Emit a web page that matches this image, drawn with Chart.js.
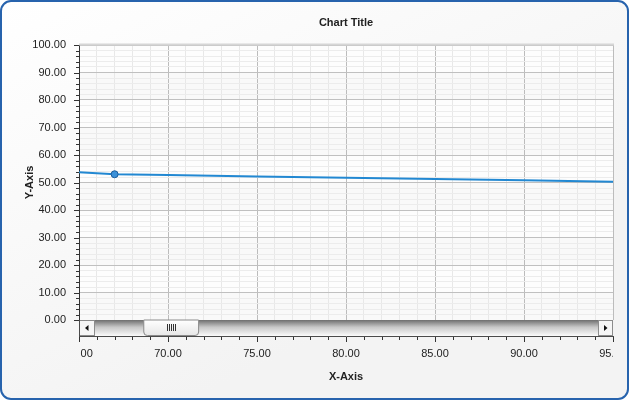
<!DOCTYPE html>
<html>
<head>
<meta charset="utf-8">
<script src="https://cdn.jsdelivr.net/npm/chart.js@4/dist/chart.umd.min.js"></script>
<style>
  html, body { margin: 0; padding: 0; background: #ffffff; }
  #wrap { width: 630px; height: 401px; position: relative; }
</style>
</head>
<body>
<div id="wrap"><canvas id="c" width="630" height="401"></canvas></div>
<script>
// ---- data ----
const xValues = [65, 67, 70, 75, 80, 85, 90, 95];
const yValues = [53.7, 53.0, 52.7, 52.2, 51.7, 51.3, 50.8, 50.3];
const markedIndex = 1;
const xMin = 65, xMax = 95, xStepMinor = 1, xStepMajor = 5;
const yMin = 0, yMax = 100, yStepMinor = 2, yStepMajor = 10;
const chartTitle = 'Chart Title';
const xTitle = 'X-Axis';
const yTitle = 'Y-Axis';

const FONT = "'Liberation Sans', Arial, sans-serif";

function rr(ctx, x, y, w, h, r) {
  ctx.beginPath();
  ctx.moveTo(x + r, y);
  ctx.lineTo(x + w - r, y);
  ctx.arcTo(x + w, y, x + w, y + r, r);
  ctx.lineTo(x + w, y + h - r);
  ctx.arcTo(x + w, y + h, x + w - r, y + h, r);
  ctx.lineTo(x + r, y + h);
  ctx.arcTo(x, y + h, x, y + h - r, r);
  ctx.lineTo(x, y + r);
  ctx.arcTo(x, y, x + r, y, r);
  ctx.closePath();
}

const decor = {
  id: 'decor',
  beforeDraw(chart) {
    const { ctx, chartArea: a, scales: { y } } = chart;
    const W = chart.width, H = chart.height;
    ctx.save();
    const g = ctx.createLinearGradient(0, 0, W * 0.3, H);
    g.addColorStop(0, '#ffffff');
    g.addColorStop(1, '#f3f3f3');
    rr(ctx, 1, 1, W - 3, H - 3, 10);
    ctx.fillStyle = g;
    ctx.fill();
    // plot background bands
    for (let v = yMin; v < yMax; v += yStepMajor) {
      const t = y.getPixelForValue(v + yStepMajor), b = y.getPixelForValue(v);
      ctx.fillStyle = ((v / yStepMajor) % 2 === 0) ? '#f9f9f9' : '#fdfdfd';
      ctx.fillRect(a.left, t, a.right - a.left, b - t);
    }
    ctx.restore();
  },
  afterDraw(chart) {
    const { ctx, chartArea: a, scales: { x, y } } = chart;
    const W = chart.width, H = chart.height;
    ctx.save();
    // frame border
    rr(ctx, 1, 1, W - 3, H - 3, 10);
    ctx.strokeStyle = '#2763ad';
    ctx.lineWidth = 2;
    ctx.stroke();

    // top line of plot
    ctx.strokeStyle = '#d6d6d6';
    ctx.lineWidth = 2;
    ctx.beginPath();
    ctx.moveTo(a.left, a.top - 0.5);
    ctx.lineTo(a.right + 1, a.top - 0.5);
    ctx.stroke();

    // y axis ticks
    ctx.strokeStyle = '#333';
    ctx.lineWidth = 1;
    y.ticks.forEach(t => {
      const py = Math.round(y.getPixelForValue(t.value)) + 0.5;
      const len = (t.value % yStepMajor === 0) ? 5 : 3;
      ctx.beginPath();
      ctx.moveTo(a.left - len, py);
      ctx.lineTo(a.left, py);
      ctx.stroke();
    });

    // scrollbar
    const sbTop = a.bottom, sbH = 16, sbBot = sbTop + sbH;
    const btnL = 16, btnR = 15;
    const tL = a.left + btnL, tR = a.right - btnR;
    const tg = ctx.createLinearGradient(0, sbTop, 0, sbBot);
    tg.addColorStop(0, '#6e6e6e');
    tg.addColorStop(0.45, '#c8c8c8');
    tg.addColorStop(1, '#fbfbfb');
    ctx.fillStyle = tg;
    ctx.fillRect(tL, sbTop, tR - tL, sbH);
    // buttons
    [[a.left, btnL, -1], [tR, btnR, 1]].forEach(([bx, bw, dir]) => {
      ctx.fillStyle = '#f6f6f6';
      ctx.fillRect(bx, sbTop, bw, sbH);
      ctx.strokeStyle = '#8c8c8c';
      ctx.strokeRect(bx + 0.5, sbTop + 0.5, bw - 1, sbH - 1);
      const cx = bx + bw / 2, cy = sbTop + sbH / 2;
      ctx.fillStyle = '#111';
      ctx.beginPath();
      ctx.moveTo(cx + dir * 2, cy);
      ctx.lineTo(cx - dir * 1.5, cy - 3);
      ctx.lineTo(cx - dir * 1.5, cy + 3);
      ctx.closePath();
      ctx.fill();
    });
    // thumb
    const tw = tR - tL;
    const thX = tL + tw * 0.096, thW = tw * 0.111;
    const thg = ctx.createLinearGradient(0, sbTop, 0, sbBot);
    thg.addColorStop(0, '#ffffff');
    thg.addColorStop(1, '#e6e6e6');
    ctx.beginPath();
    ctx.moveTo(thX + 0.5, sbTop);
    ctx.lineTo(thX + 0.5, sbBot - 4);
    ctx.arcTo(thX + 0.5, sbBot - 0.5, thX + 4, sbBot - 0.5, 3.5);
    ctx.lineTo(thX + thW - 4, sbBot - 0.5);
    ctx.arcTo(thX + thW - 0.5, sbBot - 0.5, thX + thW - 0.5, sbBot - 4, 3.5);
    ctx.lineTo(thX + thW - 0.5, sbTop);
    ctx.closePath();
    ctx.fillStyle = thg;
    ctx.fill();
    ctx.strokeStyle = '#8a8a8a';
    ctx.stroke();
    ctx.strokeStyle = '#333';
    const gc = Math.round(thX + thW / 2);
    for (let i = -2; i <= 2; i++) {
      ctx.beginPath();
      ctx.moveTo(gc + i * 2 + 0.5, sbTop + 4);
      ctx.lineTo(gc + i * 2 + 0.5, sbTop + 11);
      ctx.stroke();
    }
    // scrollbar bottom / x axis line
    ctx.strokeStyle = '#4a4a4a';
    ctx.beginPath();
    ctx.moveTo(a.left, sbBot + 0.5);
    ctx.lineTo(a.right + 1, sbBot + 0.5);
    ctx.stroke();
    ctx.beginPath();
    ctx.moveTo(a.left + 0.5, sbTop);
    ctx.lineTo(a.left + 0.5, sbBot);
    ctx.stroke();

    // x ticks below scrollbar
    ctx.strokeStyle = '#333';
    x.ticks.forEach(t => {
      const px = Math.round(x.getPixelForValue(t.value)) + 0.5;
      const len = (t.value % xStepMajor === 0) ? 5 : 3;
      ctx.beginPath();
      ctx.moveTo(px, sbBot + 1);
      ctx.lineTo(px, sbBot + 1 + len);
      ctx.stroke();
    });

    // x labels, clipped to plot width
    ctx.beginPath();
    ctx.rect(a.left + 1, sbBot, a.right - a.left - 1, 40);
    ctx.clip();
    ctx.fillStyle = '#222';
    ctx.font = '11px ' + FONT;
    ctx.textAlign = 'center';
    ctx.textBaseline = 'middle';
    x.ticks.forEach(t => {
      if (t.value % xStepMajor !== 0) return;
      ctx.fillText(t.value.toFixed(2), x.getPixelForValue(t.value), sbBot + 18);
    });
    ctx.restore();
  }
};

new Chart(document.getElementById('c'), {
  type: 'line',
  data: {
    datasets: [{
      data: xValues.map((v, i) => ({ x: v, y: yValues[i] })),
      borderColor: '#2288d2',
      borderWidth: 2,
      pointRadius: xValues.map((v, i) => i === markedIndex ? 3.5 : 0),
      pointBackgroundColor: '#3b90d8',
      pointBorderColor: '#1b5c9c',
      pointBorderWidth: 1,
      tension: 0,
      fill: false
    }]
  },
  options: {
    responsive: false,
    animation: false,
    events: [],
    layout: { padding: { left: 10, right: 17, top: 5, bottom: 5 } },
    plugins: {
      legend: { display: false },
      tooltip: { enabled: false },
      title: {
        display: true,
        fullSize: false,
        text: chartTitle,
        color: '#222',
        font: { family: FONT, size: 11, weight: 'bold' },
        padding: { top: 11.4, bottom: 15.4 }
      }
    },
    scales: {
      x: {
        type: 'linear',
        min: xMin, max: xMax,
        ticks: { display: false, stepSize: xStepMinor, autoSkip: false },
        grid: {
          drawTicks: false,
          color: c => (c.tick && c.tick.value % xStepMajor === 0) ? '#bcbcbc' : '#e8e8e8',
          lineWidth: 1
        },
        border: { display: false },
        title: {
          display: true, text: xTitle, color: '#222',
          font: { family: FONT, size: 11, weight: 'bold' },
          padding: { top: 0, bottom: 12.4 }
        },
        afterFit: s => { s.height = 76; }
      },
      y: {
        min: yMin, max: yMax,
        ticks: {
          stepSize: yStepMinor, autoSkip: false, padding: 13, color: '#222',
          font: { family: FONT, size: 11 },
          callback: v => (v % yStepMajor === 0) ? Number(v).toFixed(2) : ''
        },
        grid: {
          drawTicks: false,
          color: c => (c.tick && c.tick.value % yStepMajor === 0) ? '#c0c0c0' : '#ececec',
          lineWidth: 1
        },
        border: { display: true, color: '#333', width: 1 },
        title: {
          display: true, text: yTitle, color: '#222',
          font: { family: FONT, size: 11, weight: 'bold' },
          padding: { top: 13.4, bottom: 0 }
        },
        afterFit: s => { s.width = 69; }
      }
    }
  },
  plugins: [decor]
});
</script>
</body>
</html>
